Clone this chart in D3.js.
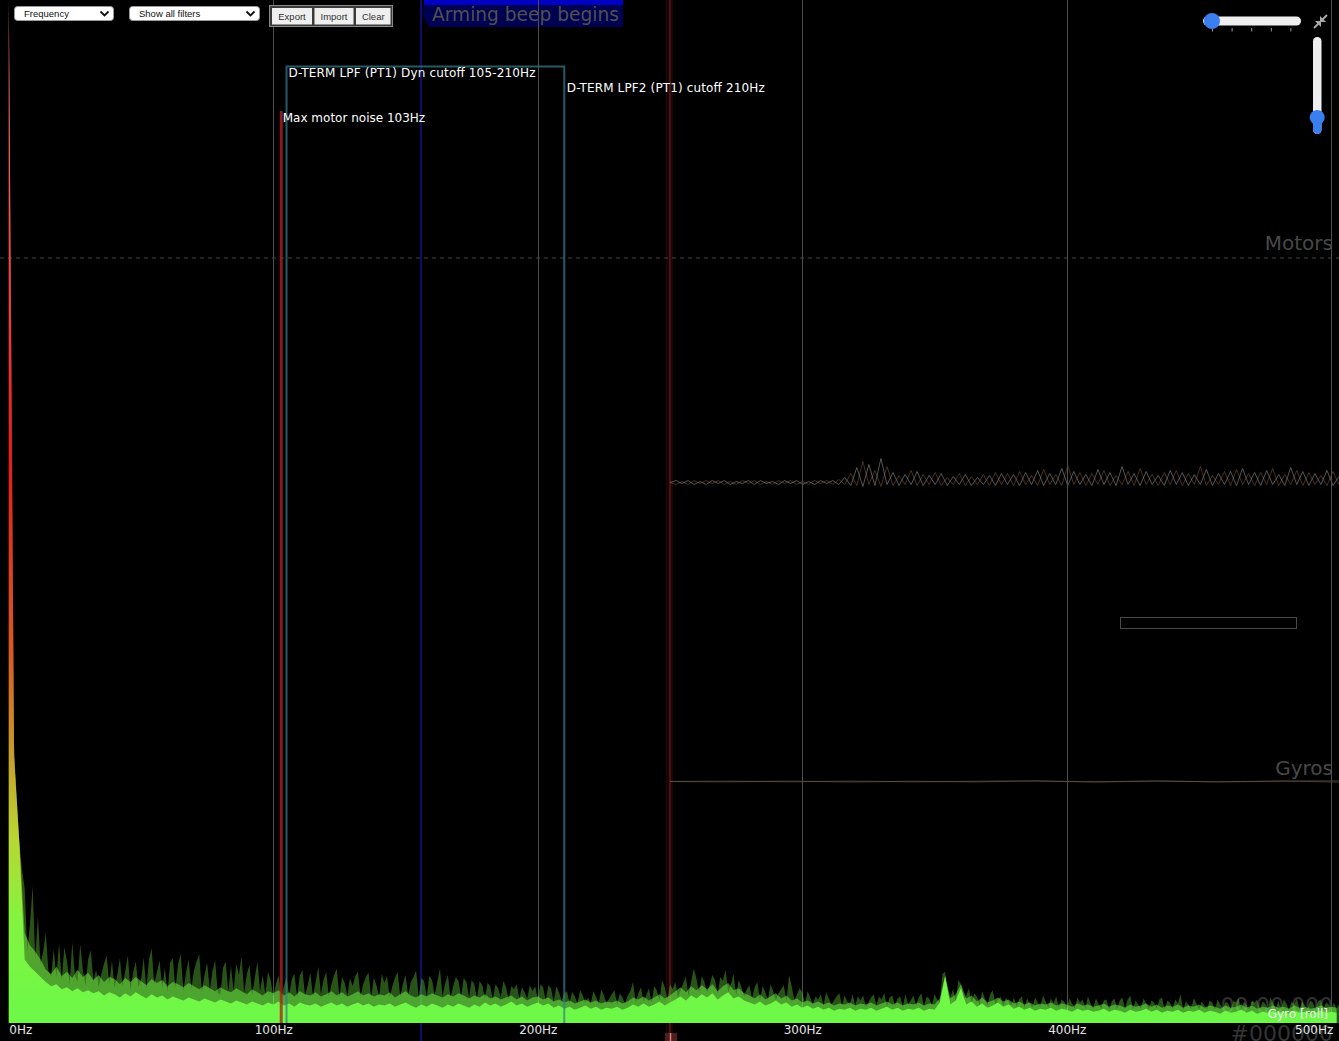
<!DOCTYPE html>
<html><head><meta charset="utf-8">
<script src="https://cdn.jsdelivr.net/npm/d3@7"></script>
<style>html,body{margin:0;padding:0;background:#000;overflow:hidden}svg{display:block}</style>
</head><body>
<svg id="c" width="1339" height="1041"></svg>
<script>
// ---------- DATA ----------
const freqTicks = [0, 100, 200, 300, 400, 500];
const tickLabels = ["0Hz", "100Hz", "200Hz", "300Hz", "400Hz", "500Hz"];

// spectrum peak amplitude, 1 Hz bins (0..503 Hz)
const peakAmp = [
1000,400,270,200,176,150,132,70,96,134,62,104,58,70,88,50,46,72,44,78,
42,74,60,38,79,46,40,77,52,36,62,71,40,52,35,48,58,66,38,61,
34,47,63,36,50,66,32,49,60,35,42,64,33,62,73,38,50,61,34,54,
30,59,63,34,57,68,31,49,62,33,51,60,67,30,47,59,32,50,61,29,
28,54,60,30,56,31,58,47,65,29,48,57,27,44,60,31,47,28,50,42,
26,38,47,25,36,45,27,43,48,25,46,52,27,37,49,26,40,55,28,42,
50,26,38,47,53,25,45,39,27,44,36,46,50,26,38,45,49,25,44,37,
26,48,39,46,25,36,44,50,26,38,47,27,40,45,51,25,44,41,26,46,
42,27,40,53,26,39,47,25,36,45,41,26,44,40,25,42,38,24,41,37,
24,39,36,23,38,34,25,41,35,23,36,33,38,24,35,30,24,37,31,36,
23,38,35,22,37,34,21,36,30,22,29,31,20,30,26,19,32,27,20,25,
19,31,26,18,33,27,19,24,28,32,18,29,25,19,27,31,40,20,29,35,
21,27,34,20,36,32,22,42,35,23,38,33,40,25,32,39,45,26,41,53,
43,29,46,40,30,37,47,42,28,45,41,52,30,38,48,27,42,35,26,33,
37,24,35,40,22,36,30,23,38,31,22,29,33,37,21,47,36,22,28,34,
30,19,31,25,18,26,23,28,17,30,24,18,22,26,29,17,27,21,18,28,
17,26,22,27,16,20,25,28,17,26,23,29,16,25,27,17,24,26,16,28,
18,22,27,17,25,29,16,26,24,17,28,23,20,48,50,22,26,33,20,42,
38,22,27,34,18,29,26,17,31,24,17,28,32,18,23,26,16,25,21,17,
25,16,23,26,15,24,19,15,25,20,16,27,21,15,24,19,26,15,23,21,
15,24,19,14,25,20,23,14,26,19,14,24,18,14,22,23,13,21,24,14,
22,25,14,23,27,13,22,18,14,24,19,13,22,20,14,23,25,13,22,20,
14,23,19,28,13,21,18,14,24,19,13,21,17,13,22,20,13,23,18,14,
21,19,13,22,20,24,13,21,17,13,22,20,23,13,21,19,13,25,19,14,
22,13,23,19,13,21,18,24,13,21,17,13,22,20,13,21,23,13,20,18,
13,20,14,19
];

// spectrum medium-density amplitude, 2 Hz bins (0..502 Hz)
const midAmp = [
1000,265,176,88,76,70,62,52,48,55,46,50,44,52,45,49,42,47,40,45,
43,38,44,40,45,41,37,43,39,42,36,40,38,35,39,36,33,37,34,31,
35,32,30,34,31,28,33,30,27,31,29,32,27,30,26,31,28,27,30,26,
28,31,27,30,26,28,31,27,29,26,28,27,30,25,28,31,27,25,28,26,
29,27,25,28,26,29,27,24,27,25,28,24,26,23,25,27,23,26,22,25,
26,23,25,21,23,20,22,19,21,23,20,22,19,21,20,22,19,21,25,23,
26,22,25,28,24,27,31,35,30,36,32,37,33,38,31,36,39,32,34,29,
27,24,28,23,26,29,24,27,22,24,20,22,19,21,18,20,17,19,18,20,
17,19,18,20,17,19,21,18,20,17,19,18,20,17,19,18,24,46,24,28,
38,24,27,21,25,20,22,25,21,23,19,21,18,20,17,19,18,20,17,19,
18,16,19,17,18,16,17,19,16,18,17,15,18,16,17,19,16,18,15,17,
16,18,15,17,16,18,15,17,16,14,17,15,16,18,15,17,14,16,15,17,
15,16,14,17,15,16,14,15,17,15,16,15
];

// spectrum dense (body) amplitude, 2 Hz bins (0..502 Hz)
const bodyAmp = [
1000,260,175,62,55,50,45,40,36,38,33,35,31,34,30,32,29,31,27,30,
28,25,29,26,30,27,24,28,25,27,23,26,24,22,25,23,21,24,22,20,
23,21,19,22,20,18,21,19,17,20,18,21,17,19,16,20,18,17,19,16,
18,20,17,19,16,18,20,17,19,16,18,17,19,16,18,20,17,15,18,16,
19,17,15,18,16,19,17,15,18,16,20,17,19,16,18,21,17,19,16,18,
20,17,19,15,17,14,16,13,15,17,14,16,13,15,14,16,13,15,18,16,
19,16,18,21,17,20,23,26,22,27,24,28,25,29,23,27,30,24,26,22,
20,18,21,17,19,22,18,20,16,18,15,17,14,16,13,15,12,14,13,15,
12,14,13,15,12,14,16,13,15,12,14,13,15,12,14,13,20,46,18,22,
34,18,21,16,19,15,17,20,16,18,14,16,13,15,12,14,13,15,12,14,
13,11,14,12,13,11,12,14,11,13,12,10,13,11,12,14,11,13,10,12,
11,13,10,12,11,13,10,12,11,9,12,10,11,13,10,12,9,11,10,12,
10,11,9,12,10,11,9,10,12,10,11,10
];

// filter markers
const motorNoise = { label: "Max motor noise 103Hz", freq: 103 };
const dtermLpf = { label: "D-TERM LPF (PT1) Dyn cutoff 105-210Hz", min: 105, max: 210 };
const dtermLpf2 = { label: "D-TERM LPF2 (PT1) cutoff 210Hz", freq: 210 };

// background log graph traces
const motor1 = [
0,2,-1,2,-2,1,-2,2,-1,2,-2,1,-1,2,-2,2,-1,1,-2,2,-1,2,-2,1,-2,2,-1,2,-2,
5,-3,15,-4,18,-3,24,-2,
10,-3,8,-2,11,-3,7,-2,9,-3,6,-2,8,-3,5,-2,7,-3,9,
-2,8,-3,10,-2,12,-3,9,-2,14,-3,11,-2,8,-3,13,-2,10,-3,16,-2,9,-3,11,-2,7,-3,12,-2,10,
-3,8,-2,13,-3,9,-2,11,-3,14,-2,10,-3,12,-2,8,-3,15,-2,11,-3,9,-2,12,-3,6
];
const motor2 = [
0,-2,1,-2,2,-1,2,-1,2,-2,1,-2,2,-1,2,-2,1,-2,2,-1,2,-2,1,-2,2,-1,2,-2,3,
-2,9,-3,21,-2,12,-4,16,
-3,7,-2,12,-3,8,-2,10,-3,5,-2,9,-3,6,-2,8,-3,10,-2,
9,-3,11,-2,7,-3,13,-2,8,-3,17,-2,10,-3,9,-2,12,-3,7,-2,11,-3,14,-2,8,-3,10,-2,12,-3,
9,-2,16,-3,7,-2,11,-3,13,-2,9,-3,10,-2,14,-3,8,-2,12,-3,10,-2,7,-3,11,-2
];
const gyroRoll = [0,0.4,-0.3,0.5,-0.4,0.3,0.6,-0.5,0.4,-0.3,0.5,0.7];
const gyroPitch = [0,-0.3,0.4,-0.5,0.3,-0.4,0.5,-0.3,0.6,-0.4,0.3,-0.6];

const graphLabels = ["Motors", "Gyros"];
const eventLabel = "Arming beep begins";
const timeLabel = "00:00.000";
const frameLabel = "#000000";
const curveLabel = "Gyro [roll]";
const selectLabels = ["Frequency", "Show all filters"];
const buttonLabels = ["Export", "Import", "Clear"];

// ---------- DRAW ----------
const W = 1339, H = 1041, BASE = 1023;
const svg = d3.select("#c");
const FONT = "DejaVu Sans, Verdana, sans-serif";

svg.append("rect").attr("width", W).attr("height", H).attr("fill", "#000");

const x = d3.scaleLinear().domain([0, 500]).range([8.8, 1331.3]);
const y = d3.scaleLinear().domain([0, 1000]).range([BASE, 0]);

// ---- background log graph ----
const bg = svg.append("g");
const evX = 421;
bg.append("line").attr("x1", evX).attr("x2", evX).attr("y1", 0).attr("y2", H)
  .attr("stroke", "rgb(20,20,140)").attr("stroke-width", 1.5);
bg.append("path").attr("d", "M423,5 L623,5 L623,27 L429,27 L423,16 Z").attr("fill", "rgb(0,0,82)");
bg.append("rect").attr("x", 424).attr("y", 0).attr("width", 199).attr("height", 5).attr("fill", "rgb(0,0,195)");
bg.append("text").attr("x", 432).attr("y", 21).text(eventLabel)
  .attr("font-family", FONT).attr("font-size", 18.6).attr("fill", "rgb(80,80,80)");

bg.append("line").attr("x1", 0).attr("x2", W).attr("y1", 258).attr("y2", 258)
  .attr("stroke", "rgb(70,70,70)").attr("stroke-dasharray", "4,4");
bg.append("text").attr("x", 1333).attr("y", 250).attr("text-anchor", "end").text(graphLabels[0])
  .attr("font-family", FONT).attr("font-size", 20).attr("fill", "rgb(72,72,72)");
bg.append("text").attr("x", 1333).attr("y", 775).attr("text-anchor", "end").text(graphLabels[1])
  .attr("font-family", FONT).attr("font-size", 20).attr("fill", "rgb(72,72,72)");

// motors
const xt = d3.scaleLinear().domain([0, motor1.length - 1]).range([670, 1339]);
const ym = d3.scaleLinear().domain([-100, 100]).range([582.5, 382.5]);
const mline = d3.line().x((d, i) => xt(i)).y(d => ym(d)).curve(d3.curveLinear);
bg.append("path").datum(motor2).attr("d", mline).attr("fill", "none")
  .attr("stroke", "rgba(120,80,55,0.6)").attr("stroke-width", 1);
bg.append("path").datum(motor1).attr("d", mline).attr("fill", "none")
  .attr("stroke", "rgba(140,140,140,0.6)").attr("stroke-width", 1);

// gyros
const xg = d3.scaleLinear().domain([0, gyroRoll.length - 1]).range([670, 1339]);
const yg = d3.scaleLinear().domain([-100, 100]).range([881.5, 681.5]);
const gline = d3.line().x((d, i) => xg(i)).y(d => yg(d)).curve(d3.curveCatmullRom);
bg.append("path").datum(gyroPitch).attr("d", gline).attr("fill", "none")
  .attr("stroke", "rgba(110,110,110,0.55)").attr("stroke-width", 1);
bg.append("path").datum(gyroRoll).attr("d", gline).attr("fill", "none")
  .attr("stroke", "rgba(140,100,55,0.5)").attr("stroke-width", 1);

bg.append("rect").attr("x", 1120.5).attr("y", 617.5).attr("width", 176).attr("height", 11)
  .attr("fill", "none").attr("stroke", "rgb(72,72,72)");

// cursor
bg.append("rect").attr("x", 666).attr("y", 0).attr("width", 7).attr("height", H).attr("fill", "rgba(255,40,40,0.11)");
bg.append("line").attr("x1", 670).attr("x2", 670).attr("y1", 0).attr("y2", H)
  .attr("stroke", "rgba(255,110,110,0.22)").attr("stroke-width", 1.5);
bg.append("rect").attr("x", 665).attr("y", 1033).attr("width", 12).attr("height", 8).attr("fill", "rgb(80,28,28)");
bg.append("line").attr("x1", 670.5).attr("x2", 670.5).attr("y1", 1033).attr("y2", H)
  .attr("stroke", "rgb(210,130,130)").attr("stroke-width", 1.5);

// time labels
bg.append("text").attr("x", 1333).attr("y", 1013).attr("text-anchor", "end").text(timeLabel)
  .attr("font-family", FONT).attr("font-size", 22).attr("fill", "rgb(50,50,50)");
bg.append("text").attr("x", 1333).attr("y", 1041).attr("text-anchor", "end").text(frameLabel)
  .attr("font-family", FONT).attr("font-size", 22).attr("fill", "rgb(52,52,52)");

// ---- spectrum ----
svg.append("g").selectAll("line").data(freqTicks.slice(1)).join("line")
  .attr("x1", d => Math.round(x(d)) + 0.5).attr("x2", d => Math.round(x(d)) + 0.5)
  .attr("y1", 0).attr("y2", BASE).attr("stroke", "rgb(78,78,78)").attr("stroke-width", 1);

const defs = svg.append("defs");
const grad = defs.append("linearGradient").attr("id", "heat")
  .attr("gradientUnits", "userSpaceOnUse").attr("x1", 0).attr("y1", BASE).attr("x2", 0).attr("y2", 0);
[[0, "rgb(108,248,72)"], [0.1, "rgb(130,244,64)"], [0.18, "rgb(185,215,50)"],
 [0.36, "rgb(215,90,35)"], [0.55, "rgb(225,30,30)"], [1, "rgb(255,130,130)"]]
  .forEach(([o, c]) => grad.append("stop").attr("offset", o).attr("stop-color", c));

const peakArea = d3.area().x((d, i) => x(i)).y0(BASE).y1(d => y(d));
const binArea = d3.area().x((d, i) => x(i * 2)).y0(BASE).y1(d => y(d));
const spec = svg.append("g");
spec.append("path").datum(peakAmp).attr("d", peakArea).attr("fill", "url(#heat)").attr("opacity", 0.34);
spec.append("path").datum(midAmp).attr("d", binArea).attr("fill", "url(#heat)").attr("opacity", 0.5);
spec.append("path").datum(bodyAmp).attr("d", binArea).attr("fill", "url(#heat)").attr("opacity", 1);

// ---- filter markers ----
const fm = svg.append("g");
const dl = x(dtermLpf.min), dr = x(dtermLpf.max);
fm.append("path").attr("d", `M${dl},${BASE} L${dl},66.5 L${dr},66.5 L${dr},${BASE}`)
  .attr("fill", "none").attr("stroke", "rgba(55,125,140,0.72)").attr("stroke-width", 2);
fm.append("line").attr("x1", x(motorNoise.freq)).attr("x2", x(motorNoise.freq)).attr("y1", 111).attr("y2", BASE)
  .attr("stroke", "rgba(175,32,32,0.8)").attr("stroke-width", 3);
const lblStyle = s => s.attr("font-family", FONT).attr("font-size", 12).attr("fill", "#fff");
fm.append("text").attr("x", dl + 2).attr("y", 77).text(dtermLpf.label).call(lblStyle)
  .attr("textLength", 247).attr("lengthAdjust", "spacing");
fm.append("text").attr("x", x(dtermLpf2.freq) + 2.5).attr("y", 92).text(dtermLpf2.label).call(lblStyle)
  .attr("textLength", 198).attr("lengthAdjust", "spacing");
fm.append("text").attr("x", x(motorNoise.freq) + 1.5).attr("y", 122).text(motorNoise.label).call(lblStyle);

// ---- axis ----
const axis = d3.axisBottom(x).tickValues(freqTicks).tickFormat((d, i) => tickLabels[i]).tickSize(0);
const ax = svg.append("g").attr("transform", `translate(0,${BASE})`).call(axis);
ax.select(".domain").remove();
ax.selectAll("text").attr("y", 11).attr("dy", 0).attr("font-family", FONT).attr("font-size", 12).attr("fill", "#e6e6e6")
  .attr("text-anchor", (d, i) => i === 0 ? "start" : (i === freqTicks.length - 1 ? "end" : "middle"))
  .attr("dx", (d, i) => i === freqTicks.length - 1 ? 1.5 : 0);

svg.append("text").attr("x", 1328).attr("y", 1018).attr("text-anchor", "end").text(curveLabel)
  .attr("font-family", FONT).attr("font-size", 12).attr("fill", "#f2f2f2");

// ---- controls ----
const ui = svg.append("g");
const SANS = "Liberation Sans, Arial, sans-serif";
const sel = [{ x: 14.5, w: 99, tx: 24 }, { x: 129.5, w: 130, tx: 139 }];
sel.forEach((s, i) => {
  ui.append("rect").attr("x", s.x).attr("y", 6.5).attr("width", s.w).attr("height", 14).attr("rx", 3)
    .attr("fill", "#fff").attr("stroke", "#9a9a9a");
  ui.append("text").attr("x", s.tx).attr("y", 17).text(selectLabels[i])
    .attr("font-family", SANS).attr("font-size", 9.5).attr("fill", "#111");
  const cx = s.x + s.w - 9;
  ui.append("path").attr("d", `M${cx - 4},11.5 L${cx},15.5 L${cx + 4},11.5`).attr("fill", "none")
    .attr("stroke", "#111").attr("stroke-width", 1.8);
});
ui.append("rect").attr("x", 269.5).attr("y", 5.5).attr("width", 123).attr("height", 21)
  .attr("fill", "#3a3a3a").attr("stroke", "#8a8a8a");
const btn = [{ x: 272, w: 40 }, { x: 314.5, w: 39 }, { x: 356, w: 34.5 }];
btn.forEach((b, i) => {
  ui.append("rect").attr("x", b.x).attr("y", 8).attr("width", b.w).attr("height", 16.5).attr("fill", "#efefef");
  ui.append("text").attr("x", b.x + b.w / 2).attr("y", 19.5).attr("text-anchor", "middle").text(buttonLabels[i])
    .attr("font-family", SANS).attr("font-size", 9.5).attr("fill", "#333");
});

ui.append("rect").attr("x", 1203).attr("y", 16.5).attr("width", 98).attr("height", 9).attr("rx", 4.5).attr("fill", "#efefef");
ui.selectAll(".tk").data([0, 1, 2, 3, 4]).join("line").attr("class", "tk")
  .attr("x1", d => 1212.5 + d * 19.6).attr("x2", d => 1212.5 + d * 19.6).attr("y1", 28).attr("y2", 31.5)
  .attr("stroke", "#999").attr("stroke-width", 1);
ui.append("circle").attr("cx", 1212).attr("cy", 21).attr("r", 8).attr("fill", "rgb(59,126,240)");
ui.append("rect").attr("x", 1204).attr("y", 17).attr("width", 8).attr("height", 8).attr("rx", 4).attr("fill", "rgb(59,126,240)");
ui.append("rect").attr("x", 1313).attr("y", 37).attr("width", 8.5).attr("height", 97).attr("rx", 4.2).attr("fill", "#efefef");
ui.append("rect").attr("x", 1313).attr("y", 115).attr("width", 8.5).attr("height", 19).attr("rx", 4.2).attr("fill", "rgb(59,126,240)");
ui.append("circle").attr("cx", 1317.2).attr("cy", 117.5).attr("r", 7.5).attr("fill", "rgb(59,126,240)");
const ic = ui.append("g").attr("stroke", "#a8a8a8").attr("stroke-width", 2).attr("fill", "none");
ic.append("line").attr("x1", 1327).attr("y1", 15).attr("x2", 1322).attr("y2", 20);
ic.append("line").attr("x1", 1314).attr("y1", 28).attr("x2", 1319).attr("y2", 23);
ui.append("path").attr("d", "M1320,16 L1320,22 L1326,22 Z").attr("fill", "#a8a8a8");
ui.append("path").attr("d", "M1315,21 L1321,21 L1321,27 Z").attr("fill", "#a8a8a8");
</script>
</body></html>
